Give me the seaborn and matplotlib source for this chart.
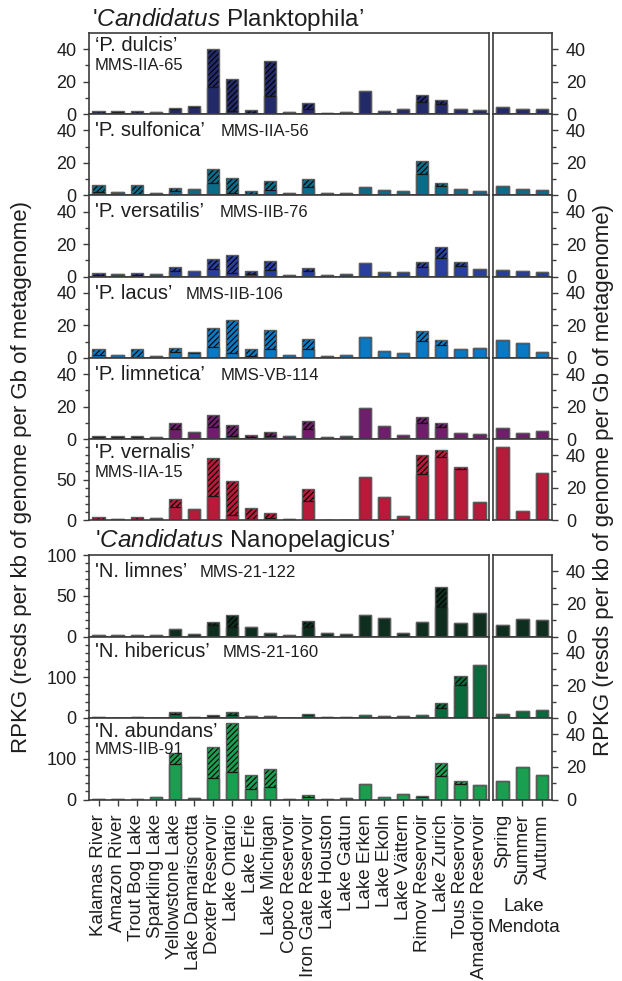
import numpy as np
import pandas as pd
import matplotlib
matplotlib.use("Agg")
import matplotlib.pyplot as plt
from matplotlib.ticker import FixedLocator
import seaborn as sns

# ---------------------------------------------------------------- data
sites = ["Kalamas River", "Amazon River", "Trout Bog Lake", "Sparkling Lake",
         "Yellowstone Lake", "Lake Damariscotta", "Dexter Reservoir", "Lake Ontario",
         "Lake Erie", "Lake Michigan", "Copco Reservoir", "Iron Gate Reservoir",
         "Lake Houston", "Lake Gatun", "Lake Erken", "Lake Ekoln", "Lake Vättern",
         "Rimov Reservoir", "Lake Zurich", "Tous Reservoir", "Amadorio Reservoir"]
seasons = ["Spring", "Summer", "Autumn"]

# RPKG: solid = lower segment, hatched = upper (hatched) segment, mendota = seasonal samples
dulcis_solid = [1.0, 1.2, 0.8, 1.2, 3.0, 4.5, 16.8, 2.2, 1.0, 11.2, 1.2, 3.2, 1.0, 1.4, 14.4, 1.9, 3.2, 7.7, 6.5, 3.0, 2.3]
dulcis_hatched = [1.0, 0.6, 1.2, 0.0, 1.0, 0.5, 23.2, 19.5, 1.5, 21.8, 0.0, 3.5, 0.0, 0.0, 0.0, 0.0, 0.0, 4.3, 2.3, 0.0, 0.0]
dulcis_mendota = [4.5, 3.5, 3.1]

sulfonica_solid = [2.1, 2.1, 1.0, 1.4, 2.9, 4.1, 7.8, 1.6, 1.0, 3.5, 1.4, 5.1, 1.4, 1.6, 5.1, 3.5, 2.9, 13.4, 6.0, 3.7, 2.9]
sulfonica_hatched = [4.1, 0.0, 5.2, 0.0, 1.6, 0.0, 8.7, 9.1, 1.7, 5.2, 0.0, 5.0, 0.0, 0.0, 0.0, 0.0, 0.0, 7.8, 1.8, 0.0, 0.0]
sulfonica_mendota = [5.6, 4.1, 3.5]

versatilis_solid = [1.2, 1.4, 1.0, 1.4, 3.7, 3.5, 4.9, 2.5, 1.4, 3.9, 1.2, 3.5, 1.0, 1.9, 8.2, 2.7, 2.9, 6.2, 11.3, 6.8, 4.5]
versatilis_hatched = [0.9, 0.0, 1.1, 0.0, 2.1, 0.0, 6.2, 10.9, 2.3, 6.0, 0.0, 1.7, 0.0, 0.0, 0.0, 0.0, 0.0, 2.7, 7.0, 2.1, 0.0]
versatilis_mendota = [4.1, 3.3, 2.7]

lacus_solid = [1.7, 1.7, 0.6, 1.3, 3.4, 3.2, 6.5, 3.2, 1.3, 5.3, 1.5, 5.7, 1.1, 1.7, 12.6, 4.4, 2.9, 10.3, 8.0, 5.7, 6.1]
lacus_hatched = [3.6, 0.0, 4.7, 0.0, 2.7, 0.6, 12.0, 20.0, 4.0, 11.7, 0.0, 5.7, 0.0, 0.0, 0.0, 0.0, 0.0, 5.9, 3.2, 0.0, 0.0]
lacus_mendota = [10.9, 9.0, 3.7]

limnetica_solid = [1.2, 1.2, 1.2, 1.4, 6.2, 4.1, 7.4, 1.6, 1.4, 2.0, 2.0, 6.2, 1.4, 1.8, 18.8, 7.8, 2.7, 9.8, 7.6, 3.7, 3.1]
limnetica_hatched = [0.8, 0.6, 0.8, 0.0, 3.4, 0.0, 7.4, 7.0, 1.3, 2.1, 0.0, 5.1, 0.0, 0.0, 0.0, 0.0, 0.0, 3.9, 2.4, 0.0, 0.0]
limnetica_mendota = [6.8, 3.7, 5.1]

vernalis_solid = [1.5, 1.2, 1.2, 2.5, 15.8, 13.8, 30.4, 7.0, 1.7, 3.3, 2.0, 24.2, 0.8, 0.8, 52.9, 28.8, 5.0, 57.0, 78.0, 63.5, 22.0]
vernalis_hatched = [2.3, 0.0, 2.5, 0.0, 10.0, 0.0, 45.6, 41.7, 13.3, 5.9, 0.0, 14.1, 0.0, 0.0, 0.0, 0.0, 0.0, 23.4, 9.0, 1.5, 0.0]
vernalis_mendota = [45.0, 5.5, 29.0]

limnes_solid = [2.0, 1.6, 1.6, 2.0, 8.8, 2.8, 14.0, 12.0, 11.2, 4.0, 2.0, 12.0, 4.4, 3.2, 26.0, 22.8, 4.8, 18.0, 36.4, 16.4, 29.2]
limnes_hatched = [0.0, 0.0, 0.0, 0.0, 0.0, 0.0, 4.0, 14.0, 0.0, 0.0, 0.0, 6.8, 0.0, 0.0, 0.0, 0.0, 0.0, 0.0, 24.4, 0.0, 0.0]
limnes_mendota = [6.8, 10.9, 10.3]

hibericus_solid = [2.4, 0.8, 1.6, 0.5, 9.8, 3.3, 4.9, 7.3, 4.9, 4.9, 0.3, 6.5, 3.3, 3.3, 6.5, 4.9, 4.1, 7.3, 23.6, 82.0, 129.0]
hibericus_hatched = [0.0, 0.0, 0.0, 0.0, 4.0, 0.0, 3.2, 8.1, 0.0, 0.0, 0.0, 3.3, 0.0, 0.0, 0.0, 0.0, 0.0, 0.0, 13.0, 21.0, 0.0]
hibericus_mendota = [2.4, 4.3, 4.7]

abundans_solid = [2.4, 2.4, 2.4, 7.3, 87.0, 4.1, 53.7, 66.7, 26.0, 30.9, 0.3, 5.7, 2.4, 3.3, 38.2, 7.3, 14.6, 6.5, 58.5, 37.4, 35.0]
abundans_hatched = [0.0, 0.0, 0.0, 0.0, 27.6, 0.0, 75.3, 121.9, 34.0, 43.9, 0.0, 5.7, 0.0, 0.0, 0.0, 0.0, 0.0, 3.3, 31.7, 8.9, 0.0]
abundans_mendota = [11.3, 20.2, 15.3]

# ---------------------------------------------------------------- style
sns.set_style("ticks")
plt.rcParams.update({
    "font.family": ["Liberation Sans", "DejaVu Sans"],
    "mathtext.fontset": "custom",
    "mathtext.rm": "Liberation Sans",
    "mathtext.it": "Liberation Sans:italic",
    "hatch.linewidth": 0.8,
    "hatch.color": "black",
    "axes.edgecolor": "#3c3c3c",
    "axes.linewidth": 1.2,
    "xtick.color": "#3c3c3c",
    "ytick.color": "#3c3c3c",
    "xtick.labelcolor": "#1e1e1e",
    "ytick.labelcolor": "#1e1e1e",
    "text.color": "#1e1e1e",
})

W, H = 622, 981
fig = plt.figure(figsize=(W / 100, H / 100), dpi=100)


def rect(x0, x1, top, bottom):
    return [x0 / W, 1 - bottom / H, (x1 - x0) / W, (bottom - top) / H]


def fx(px):
    return px / W


def fy(py):
    return 1 - py / H


def stacked_bars(ax, cats, solid, hatched, color, width=0.64):
    total = np.add(solid, hatched)
    df = pd.DataFrame({"cat": cats, "solid": solid, "total": total})
    common = dict(data=df, x="cat", order=cats, width=width, errorbar=None, ax=ax)

    n = len(ax.patches)
    sns.barplot(y="total", color=color, saturation=1, **common)
    for p in ax.patches[n:]:
        p.set_hatch("//////")
        p.set_edgecolor("black")
        p.set_linewidth(0)

    n = len(ax.patches)
    sns.barplot(y="solid", color=color, saturation=1, **common)
    for p in ax.patches[n:]:
        p.set_edgecolor("#151515")
        p.set_linewidth(0.9)

    n = len(ax.patches)
    sns.barplot(y="total", color=color, saturation=1, **common)
    for p in ax.patches[n:]:
        p.set_facecolor("none")
        p.set_edgecolor("#5c5c5c")
        p.set_linewidth(1.0)
    ax.set_xlabel("")
    ax.set_ylabel("")
    ax.set_xlim(-0.5, len(cats) - 0.5)


# name, strain, data, colour, left y-limit, major ticks, minor ticks, label layout
rows = [
    ("\u2018P. dulcis\u2019", "MMS-IIA-65", dulcis_solid, dulcis_hatched, dulcis_mendota,
     "#232a69", 50, [0, 20, 40], [10, 30], ("below", 18, 36.5)),
    ("'P. sulfonica\u2019", "MMS-IIA-56", sulfonica_solid, sulfonica_hatched, sulfonica_mendota,
     "#0b6c8a", 50, [0, 20, 40], [10, 30], ("inline", 22, 221)),
    ("'P. versatilis\u2019", "MMS-IIB-76", versatilis_solid, versatilis_hatched, versatilis_mendota,
     "#283ea0", 50, [0, 20, 40], [10, 30], ("inline", 22, 220)),
    ("'P. lacus\u2019", "MMS-IIB-106", lacus_solid, lacus_hatched, lacus_mendota,
     "#0a79c4", 50, [0, 20, 40], [10, 30], ("inline", 22, 186)),
    ("'P. limnetica\u2019", "MMS-VB-114", limnetica_solid, limnetica_hatched, limnetica_mendota,
     "#6e1e6a", 50, [0, 20, 40], [10, 30], ("inline", 22, 221)),
    ("'P. vernalis\u2019", "MMS-IIA-15", vernalis_solid, vernalis_hatched, vernalis_mendota,
     "#ba1a39", 100, [0, 50], list(range(10, 100, 10)), ("below", 19, 37.5)),
    ("'N. limnes\u2019", "MMS-21-122", limnes_solid, limnes_hatched, limnes_mendota,
     "#0e2e1f", 100, [0, 50, 100], list(range(10, 100, 10)), ("inline", 22, 200)),
    ("'N. hibericus\u2019", "MMS-21-160", hibericus_solid, hibericus_hatched, hibericus_mendota,
     "#0a6a3c", 200, [0, 100], list(range(20, 200, 20)), ("inline", 20.5, 223)),
    ("'N. abundans\u2019", "MMS-IIB-91", abundans_solid, abundans_hatched, abundans_mendota,
     "#1a9f50", 200, [0, 100], list(range(20, 200, 20)), ("below", 19.0, 35.5)),
]

row_tops = [33 + i * 81.2 for i in range(6)] + [555 + i * 81.5 for i in range(3)]
row_heights = [81.2] * 6 + [81.5] * 3

XL0, XL1 = 89, 489
XR0, XR1 = 492.5, 552

for i, (name, strain, solid, hatched, mendota, color, ytop, major, minor, lab) in enumerate(rows):
    top = row_tops[i]
    bottom = top + row_heights[i]
    last = i == len(rows) - 1

    axl = fig.add_axes(rect(XL0, XL1, top, bottom))
    axr = fig.add_axes(rect(XR0, XR1, top, bottom))

    stacked_bars(axl, sites, solid, hatched, color)
    stacked_bars(axr, seasons, mendota, [0, 0, 0], color)

    axl.set_ylim(0, ytop)
    axl.yaxis.set_major_locator(FixedLocator(major))
    axl.yaxis.set_minor_locator(FixedLocator(minor))
    axl.tick_params(axis="y", which="major", direction="out", length=4.5, width=1.0,
                    labelsize=13, pad=4.5)
    axl.tick_params(axis="y", which="minor", direction="out", length=2.8, width=1.0)

    axr.set_ylim(0, 50)
    axr.yaxis.tick_right()
    axr.yaxis.set_major_locator(FixedLocator([0, 20, 40]))
    axr.yaxis.set_minor_locator(FixedLocator([10, 30]))
    axr.tick_params(axis="y", which="major", direction="out", length=4.5, width=1.0,
                    labelsize=13, pad=5.5, left=False, labelleft=False)
    axr.tick_params(axis="y", which="minor", direction="out", length=2.8, width=1.0, left=False)

    for ax in (axl, axr):
        if last:
            ax.tick_params(axis="x", direction="out", length=4.5, width=1.0,
                           labelsize=13.5, labelrotation=90, pad=6)
        else:
            ax.tick_params(axis="x", bottom=False, labelbottom=False)
        for s in ax.spines.values():
            s.set_visible(True)

    kind, name_base, strain_pos = lab
    fig.text(fx(95), fy(top + name_base), name, fontsize=14.5, va="baseline", ha="left")
    if kind == "below":
        fig.text(fx(95), fy(top + strain_pos), strain, fontsize=12, va="baseline", ha="left")
    else:
        fig.text(fx(strain_pos), fy(top + name_base), strain, fontsize=12, va="baseline", ha="left")

# genus headings
fig.text(fx(92), fy(26), r"'$\mathit{Candidatus}$ Planktophila" + "\u2019",
         fontsize=17.5, va="baseline", ha="left")
fig.text(fx(95), fy(547), r"'$\mathit{Candidatus}$ Nanopelagicus" + "\u2019",
         fontsize=17.5, va="baseline", ha="left")

# Mendota group label under the seasonal panels
fig.text(fx(524), fy(917), "Lake\nMendota", fontsize=13.5, ha="center", va="center",
         linespacing=1.25)

# shared axis titles
ylab = "RPKG (resds per kb of genome per Gb of metagenome)"
fig.text(fx(22), fy(477), ylab, rotation=90, fontsize=16, ha="center", va="center")
fig.text(fx(603), fy(480), ylab, rotation=90, fontsize=16, ha="center", va="center")

fig.savefig("out.png", dpi=100)
